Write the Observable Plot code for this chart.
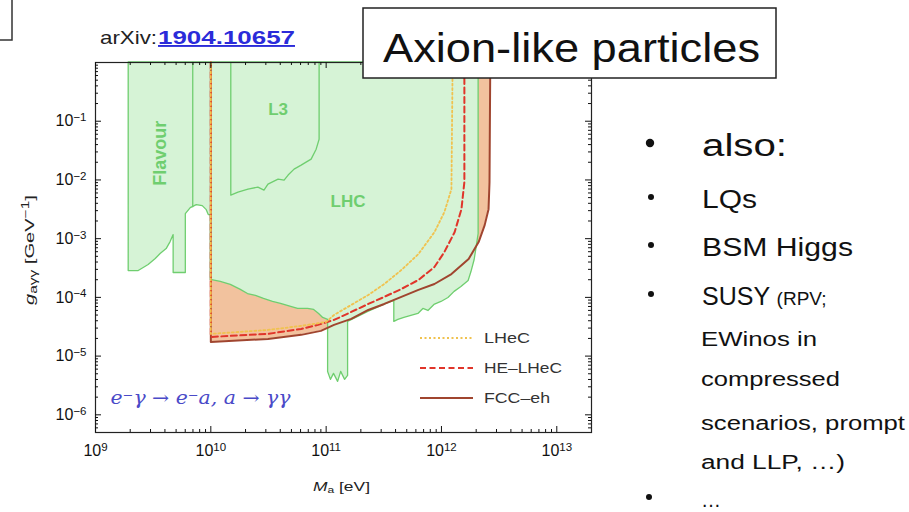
<!DOCTYPE html>
<html><head><meta charset="utf-8">
<script src="https://cdn.jsdelivr.net/npm/d3@7"></script>
<script src="https://cdn.jsdelivr.net/npm/@observablehq/plot@0.6"></script>
<style>
body{margin:0;background:#fff;font-family:"Liberation Sans",Arial,sans-serif;}
#page{position:relative;width:909px;height:512px;overflow:hidden;background:#fff;}
#chart{position:absolute;left:0;top:0;}
#overlay{position:absolute;left:0;top:0;pointer-events:none;}
</style></head>
<body>
<div id="page">
<div id="chart"></div>
<svg id="overlay" width="909" height="512" font-family="'Liberation Sans', Arial, sans-serif">
  <rect x="-5" y="-5" width="17" height="45" fill="none" stroke="#333" stroke-width="1.5"/>
  <text x="100" y="44" font-size="19" fill="#222" textLength="57" lengthAdjust="spacingAndGlyphs">arXiv:</text>
  <text x="158" y="44" font-size="19" fill="#2b2bd9" font-weight="bold" text-decoration="underline" textLength="137" lengthAdjust="spacingAndGlyphs">1904.10657</text>
  <rect x="363" y="8" width="413" height="70" fill="#fff" stroke="#222" stroke-width="1.5"/>
  <text x="383" y="62" font-size="40" fill="#111" textLength="377" lengthAdjust="spacingAndGlyphs">Axion-like particles</text>

  <circle cx="650" cy="143" r="4.2" fill="#111"/>
  <text x="702" y="156" font-size="31" fill="#111" textLength="85" lengthAdjust="spacingAndGlyphs">also:</text>
  <circle cx="651" cy="197" r="3" fill="#111"/>
  <text x="702" y="208" font-size="25" fill="#111" textLength="55" lengthAdjust="spacingAndGlyphs">LQs</text>
  <circle cx="651" cy="245" r="3" fill="#111"/>
  <text x="702" y="256" font-size="25" fill="#111" textLength="151" lengthAdjust="spacingAndGlyphs">BSM Higgs</text>
  <circle cx="651" cy="294" r="3" fill="#111"/>
  <text x="702" y="305" font-size="25" fill="#111">SUSY <tspan font-size="19">(RPV;</tspan></text>
  <text x="701" y="346" font-size="20" fill="#111" textLength="116" lengthAdjust="spacingAndGlyphs">EWinos in</text>
  <text x="701" y="386" font-size="20" fill="#111" textLength="139" lengthAdjust="spacingAndGlyphs">compressed</text>
  <text x="701" y="430" font-size="20" fill="#111" textLength="204" lengthAdjust="spacingAndGlyphs">scenarios, prompt</text>
  <text x="701" y="469" font-size="20" fill="#111" textLength="144" lengthAdjust="spacingAndGlyphs">and LLP, …)</text>
  <circle cx="649" cy="497" r="3" fill="#111"/>
  <text x="701" y="507" font-size="20" fill="#111">…</text>

  <line x1="420" x2="473" y1="338" y2="338" stroke="#f0c24f" stroke-width="1.8" stroke-dasharray="2,2.5"/>
  <text x="484" y="343" font-size="14" fill="#333" textLength="46" lengthAdjust="spacingAndGlyphs">LHeC</text>
  <line x1="420" x2="473" y1="368" y2="368" stroke="#e0352a" stroke-width="2" stroke-dasharray="6,3.5"/>
  <text x="484" y="373" font-size="14" fill="#333" textLength="78" lengthAdjust="spacingAndGlyphs">HE–LHeC</text>
  <line x1="420" x2="473" y1="398" y2="398" stroke="#a0452f" stroke-width="2"/>
  <text x="484" y="403" font-size="14" fill="#333" textLength="66" lengthAdjust="spacingAndGlyphs">FCC–eh</text>

  <text x="313" y="491" font-size="13" fill="#222" textLength="57" lengthAdjust="spacingAndGlyphs"><tspan font-style="italic">M</tspan><tspan font-size="9" dy="2">a</tspan><tspan dy="-2"> [eV]</tspan></text>
  <text transform="translate(34,305) rotate(-90)" font-size="13" fill="#222" textLength="110" lengthAdjust="spacingAndGlyphs"><tspan font-style="italic">g</tspan><tspan font-size="10" dy="3">aγγ</tspan><tspan dy="-3"> [GeV</tspan><tspan font-size="10" dy="-5">−1</tspan><tspan dy="5">]</tspan></text>
</svg>
</div>
<script>
// ---- data (axion mass M in eV, coupling g in GeV^-1) ----
const xMajor = [1e9, 1e10, 1e11, 1e12, 1e13];
const yMajor = [1e-6, 1e-5, 1e-4, 1e-3, 1e-2, 1e-1];
const xMinor = [2e9,3e9,4e9,5e9,6e9,7e9,8e9,9e9, 2e10,3e10,4e10,5e10,6e10,7e10,8e10,9e10,
  2e11,3e11,4e11,5e11,6e11,7e11,8e11,9e11, 2e12,3e12,4e12,5e12,6e12,7e12,8e12,9e12];
const yMinor = [6e-7,7e-7,8e-7,9e-7, 2e-6,3e-6,4e-6,5e-6,6e-6,7e-6,8e-6,9e-6,
  2e-5,3e-5,4e-5,5e-5,6e-5,7e-5,8e-5,9e-5, 2e-4,3e-4,4e-4,5e-4,6e-4,7e-4,8e-4,9e-4,
  2e-3,3e-3,4e-3,5e-3,6e-3,7e-3,8e-3,9e-3, 2e-2,3e-2,4e-2,5e-2,6e-2,7e-2,8e-2,9e-2,
  2e-1,3e-1,4e-1,5e-1,6e-1,7e-1,8e-1,9e-1];
const gTop = 1;

// FCC-eh reach
const fccM = [1e10, 1e10, 3.13e10, 6.07e10, 9.0e10, 1.17e11, 1.65e11, 2.32e11, 3.19e11, 4.49e11, 6.31e11, 8.69e11, 1.22e12, 1.72e12, 2.10e12, 2.37e12, 2.56e12, 2.61e12, 2.65e12];
const fccG = [1, 1.74e-5, 1.96e-5, 2.30e-5, 2.69e-5, 3.40e-5, 4.30e-5, 6.11e-5, 7.73e-5, 1.02e-4, 1.34e-4, 1.69e-4, 2.5e-4, 4.5e-4, 8.75e-4, 1.70e-3, 3.18e-3, 9.18e-3, 1];
// HE-LHeC reach
const heM = [1e10, 1e10, 3.13e10, 6.07e10, 8.5e10, 1.17e11, 1.65e11, 2.32e11, 3.19e11, 4.49e11, 6.31e11, 8.69e11, 1.06e12, 1.30e12, 1.49e12, 1.58e12, 1.58e12];
const heG = [1, 2.12e-5, 2.39e-5, 2.90e-5, 3.40e-5, 4.13e-5, 5.65e-5, 7.73e-5, 1.02e-4, 1.39e-4, 1.98e-4, 3.29e-4, 5.92e-4, 1.29e-3, 3.18e-3, 9.18e-3, 1];
// LHeC reach
const lhecM = [1e10, 1e10, 3.13e10, 6.07e10, 1.0e11, 1.17e11, 1.65e11, 2.32e11, 3.19e11, 4.49e11, 6.31e11, 8.69e11, 1.06e12, 1.22e12, 1.25e12];
const lhecG = [1, 2.39e-5, 2.79e-5, 3.27e-5, 3.82e-5, 5.02e-5, 7.43e-5, 1.10e-4, 1.69e-4, 2.92e-4, 5.47e-4, 1.29e-3, 2.83e-3, 6.98e-3, 1];

// existing exclusions (Flavour + L3 + LHC), lower boundary of the union
const exclM = [1.94e9, 1.94e9, 2.37e9, 2.89e9, 3.33e9, 3.67e9, 4.14e9, 4.48e9, 4.76e9, 4.76e9, 6.07e9, 6.07e9, 6.70e9, 7.55e9, 8.51e9, 9.22e9, 9.6e9, 1e10, 1e10,
  1.22e10, 1.49e10, 1.82e10, 2.10e10, 2.46e10, 2.89e10, 3.46e10, 4.06e10, 4.97e10, 5.71e10, 6.97e10, 7.87e10, 8.69e10, 9.42e10, 1.04e11,
  1.04e11, 1.10e11, 1.17e11, 1.27e11, 1.35e11, 1.46e11, 1.55e11, 1.55e11,
  2.32e11, 3.19e11, 3.90e11, 3.90e11, 4.23e11, 4.77e11, 5.48e11, 6.31e11, 6.97e11, 7.71e11, 8.69e11, 1.0e12, 1.15e12, 1.30e12, 1.49e12, 1.72e12, 1.82e12, 1.94e12, 2.02e12, 2.10e12, 2.10e12];
const exclG = [1, 2.81e-4, 2.81e-4, 3.56e-4, 4.50e-4, 5.47e-4, 6.65e-4, 8.75e-4, 1.15e-3, 2.60e-4, 2.60e-4, 2.62e-3, 3.31e-3, 3.73e-3, 3.58e-3, 3.06e-3, 2.52e-3, 2.52e-3, 1.98e-4,
  1.83e-4, 1.63e-4, 1.34e-4, 1.14e-4, 1.06e-4, 9.40e-5, 8.36e-5, 7.73e-5, 6.87e-5, 6.35e-5, 6.35e-5, 6.11e-5, 5.22e-5, 4.47e-5, 4.13e-5,
  5.38e-6, 3.94e-6, 4.98e-6, 3.64e-6, 5.38e-6, 3.94e-6, 4.60e-6, 3.82e-5,
  5.65e-5, 7.43e-5, 8.69e-5, 3.82e-5, 4.13e-5, 4.47e-5, 4.83e-5, 5.22e-5, 6.35e-5, 5.87e-5, 7.43e-5, 8.36e-5, 9.77e-5, 1.24e-4, 1.50e-4, 1.90e-4, 2.70e-4, 4.33e-4, 7.19e-4, 1.20e-3, 1];
// L3 bound (inner boundary)
const l3M = [1.49e10, 1.49e10, 1.72e10, 2.10e10, 2.56e10, 2.89e10, 3.13e10, 3.83e10, 4.32e10, 4.68e10, 5.27e10, 6.07e10, 6.70e10, 7.41e10, 8.19e10, 8.69e10, 8.69e10];
const l3G = [1, 5.51e-3, 6.21e-3, 6.98e-3, 7.55e-3, 6.72e-3, 8.49e-3, 1.03e-2, 9.93e-3, 1.21e-2, 1.53e-2, 1.79e-2, 2.01e-2, 2.26e-2, 3.34e-2, 4.94e-2, 1];
// Flavour bound right edge (inner boundary)
const flavM = [6.97e9, 6.97e9];
const flavG = [1, 3.5e-3];

// region labels
const regionNames = ["Flavour", "L3", "LHC"];
const regionM = [3.67e9, 3.83e10, 1.55e11];
const regionG = [2.86e-2, 0.16, 4.35e-3];
const processLabel = ["e⁻γ → e⁻a, a → γγ"];
const processM = [1.35e9];
const processG = [1.95e-6];

// ---- build tables ----
const rows = (M, G) => M.map((m, i) => ({M: m, g: G[i], top: gTop}));
const fcc = rows(fccM, fccG), he = rows(heM, heG), lhec = rows(lhecM, lhecG);
const excl = rows(exclM, exclG), l3 = rows(l3M, l3G), flav = rows(flavM, flavG);
const regions = regionNames.map((n, i) => ({name: n, M: regionM[i], g: regionG[i]}));
const proc = processLabel.map((n, i) => ({name: n, M: processM[i], g: processG[i]}));

const supMap = {"-": "⁻", "0": "⁰", "1": "¹", "2": "²", "3": "³", "4": "⁴", "5": "⁵", "6": "⁶", "7": "⁷", "8": "⁸", "9": "⁹"};
const unSup = Object.fromEntries(Object.entries(supMap).map(([k, v]) => [v, k === "-" ? "−" : k]));
const pow10 = v => "10" + String(Math.round(Math.log10(v))).split("").map(c => supMap[c]).join("");

const W = 620, H = 500, ML = 95, MR = 29, MT = 62, MB = 68;
const FW = W - ML - MR, FH = H - MT - MB;
const green = "#6fce6f", ink = "#111";
const chart = Plot.plot({
  width: W, height: H,
  marginLeft: ML, marginRight: MR, marginTop: MT, marginBottom: MB,
  style: {fontFamily: "'Liberation Sans', Arial, sans-serif", fontSize: "16px", background: "transparent", color: "#111", overflow: "visible"},
  x: {type: "log", domain: [1e9, 2e13]},
  y: {type: "log", domain: [5e-7, 1]},
  marks: [
    Plot.areaY(fcc, {x: "M", y1: "g", y2: "top", fill: "#f2c29e"}),
    Plot.areaY(excl, {x: "M", y1: "g", y2: "top", fill: "#d6f3d6", stroke: green, strokeWidth: 1.3}),
    Plot.line(l3, {x: "M", y: "g", stroke: green, strokeWidth: 1.3}),
    Plot.line(flav, {x: "M", y: "g", stroke: green, strokeWidth: 1.3}),
    Plot.line(fcc, {x: "M", y: "g", stroke: "#a0452f", strokeWidth: 2}),
    Plot.line(he, {x: "M", y: "g", stroke: "#e0352a", strokeWidth: 2, strokeDasharray: "6,3.5"}),
    Plot.line(lhec, {x: "M", y: "g", stroke: "#f0c24f", strokeWidth: 1.8, strokeDasharray: "2,2.5"}),
    Plot.text(regions.filter(d => d.name === "Flavour"), {x: "M", y: "g", text: "name", rotate: -90, fill: green, fontWeight: "bold", fontSize: 18}),
    Plot.text(regions.filter(d => d.name !== "Flavour"), {x: "M", y: "g", text: "name", fill: green, fontWeight: "bold", fontSize: 17}),
    Plot.text(proc, {x: "M", y: "g", text: "name", textAnchor: "start", fill: "#4a4ac8", fontStyle: "italic", fontFamily: "'DejaVu Serif', serif", fontSize: 18}),
    Plot.frame({stroke: "#222", strokeWidth: 1.2}),
    // inward tick marks on all four sides
    Plot.tickX(xMajor, {x: d => d, insetTop: FH - 6, stroke: ink}),
    Plot.tickX(xMinor, {x: d => d, insetTop: FH - 3, stroke: ink}),
    Plot.tickX(xMajor, {x: d => d, insetBottom: FH - 6, stroke: ink}),
    Plot.tickX(xMinor, {x: d => d, insetBottom: FH - 3, stroke: ink}),
    Plot.tickY(yMajor, {y: d => d, insetRight: FW - 6, stroke: ink}),
    Plot.tickY(yMinor, {y: d => d, insetRight: FW - 3, stroke: ink}),
    Plot.tickY(yMajor, {y: d => d, insetLeft: FW - 6, stroke: ink}),
    Plot.tickY(yMinor, {y: d => d, insetLeft: FW - 3, stroke: ink}),
    // tick labels
    Plot.axisX(xMajor, {anchor: "bottom", tickSize: 0, tickPadding: 12, tickFormat: pow10, label: null}),
    Plot.axisY(yMajor, {anchor: "left", tickSize: 0, tickPadding: 9, tickFormat: pow10, label: null})
  ]
});
document.getElementById("chart").appendChild(chart);

// render exponents as raised tspans
d3.select(chart).selectAll("g[aria-label$='tick label'] text").each(function () {
  const t = this.textContent;
  if (!t.startsWith("10")) return;
  const exp = t.slice(2).split("").map(c => unSup[c] ?? c).join("");
  const sel = d3.select(this);
  sel.text(null);
  sel.append("tspan").text("10");
  sel.append("tspan").attr("font-size", "11.5px").attr("dy", "-0.45em").text(exp);
});
// stretch the process label like the original typesetting
d3.select(chart).selectAll("text").filter(function () { return this.textContent === processLabel[0]; })
  .attr("textLength", 180).attr("lengthAdjust", "spacingAndGlyphs");
</script>
</body></html>
